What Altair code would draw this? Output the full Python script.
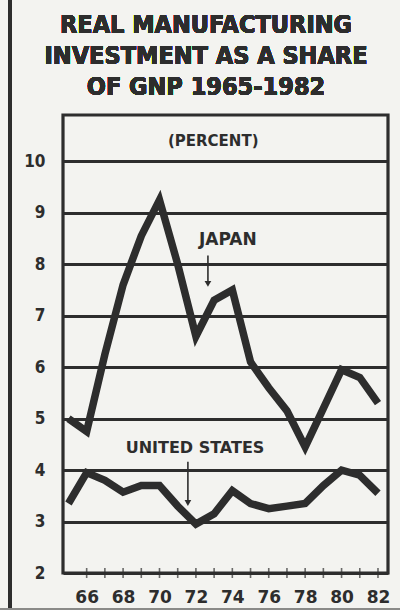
import altair as alt
import pandas as pd

# Annual shares of GNP (percent), two-digit years
years = list(range(65, 83))
japan = [5.0, 4.75, 6.25, 7.6, 8.55, 9.25, 8.0, 6.6, 7.3, 7.5, 6.1, 5.6, 5.15, 4.45, 5.2, 5.95, 5.8, 5.3]
united_states = [3.35, 3.95, 3.8, 3.57, 3.7, 3.7, 3.3, 2.95, 3.15, 3.6, 3.35, 3.25, 3.3, 3.35, 3.7, 4.0, 3.9, 3.55]

y_ticks = [2, 3, 4, 5, 6, 7, 8, 9, 10]
x_labels = [66, 68, 70, 72, 74, 76, 78, 80, 82]
x_minor = list(range(66, 83))

title_lines = ["REAL MANUFACTURING", "INVESTMENT AS A SHARE", "OF GNP 1965-1982"]

INK = "#2d2d2d"
PAPER = "#f3f3f0"
COND = "DejaVu Sans Condensed"
BOLD = "DejaVu Sans"

df = pd.DataFrame(
    {
        "year": years * 2,
        "share": japan + united_states,
        "series": ["JAPAN"] * len(years) + ["UNITED STATES"] * len(years),
    }
)

x_scale = alt.Scale(domain=[64.7, 82.55], nice=False, zero=False)
y_scale = alt.Scale(domain=[2, 10.9], nice=False, zero=False)

x_axis = alt.Axis(
    values=x_labels, format="d", title=None, ticks=False, grid=False, domain=False,
    labelFont=BOLD, labelFontWeight="bold", labelFontSize=17,
    labelColor=INK, labelPadding=16,
)
y_axis = alt.Axis(
    values=y_ticks, title=None, ticks=False, domain=False,
    grid=True, gridColor=INK, gridWidth=2.8,
    labelFont=COND, labelFontWeight="bold", labelFontSize=17,
    labelColor=INK, labelPadding=18,
)

base = alt.Chart(df)

lines = base.mark_line(color=INK, strokeWidth=7.5, strokeJoin="miter").encode(
    x=alt.X("year:Q", scale=x_scale, axis=x_axis),
    y=alt.Y("share:Q", scale=y_scale, axis=y_axis),
    detail="series:N",
)

tick_df = pd.DataFrame({"year": x_minor})
ticks = alt.Chart(tick_df).mark_tick(
    orient="vertical", color=INK, size=10, thickness=1.6
).encode(
    x=alt.X("year:Q", scale=x_scale),
    y=alt.datum(2, scale=y_scale),
)

# Series labels, the unit note and the pointer arrows, in data units
labels_df = pd.DataFrame(
    {
        "text": ["(PERCENT)", "JAPAN", "UNITED STATES"],
        "x": [72.95, 73.75, 71.95],
        "y": [10.39, 8.47, 4.43],
        "size": [15, 17, 16],
    }
)
labels = alt.Chart(labels_df).mark_text(
    font=BOLD, fontWeight="bold", color=INK, baseline="middle", align="center"
).encode(
    x=alt.X("x:Q", scale=x_scale),
    y=alt.Y("y:Q", scale=y_scale),
    text="text:N",
    size=alt.Size("size:Q", scale=None, legend=None),
)

arrows_df = pd.DataFrame(
    {"x": [72.66, 71.56], "y_from": [8.17, 4.16], "y_to": [7.62, 3.36]}
)
arrow_shafts = alt.Chart(arrows_df).mark_rule(color=INK, strokeWidth=1.6).encode(
    x=alt.X("x:Q", scale=x_scale),
    y=alt.Y("y_from:Q", scale=y_scale),
    y2="y_to:Q",
)
arrow_heads = alt.Chart(arrows_df).mark_point(
    shape="triangle-down", filled=True, color=INK, size=45, opacity=1
).encode(
    x=alt.X("x:Q", scale=x_scale),
    y=alt.Y("y_to:Q", scale=y_scale),
)

# Headline, three centred lines above the plot
title_y = [-90, -59, -28]
headline = [
    alt.Chart(tick_df).mark_text(
        font=COND, fontWeight="bold", fontSize=25, color=INK,
        align="center", baseline="middle",
    ).encode(x=alt.value(143), y=alt.value(ty), text=alt.value(line))
    for line, ty in zip(title_lines, title_y)
]

# Page rules around the graphic
frame_left = alt.Chart(tick_df).mark_rule(color=INK, strokeWidth=3).encode(
    x=alt.value(-53), y=alt.value(-115), y2=alt.value(495)
)
frame_bottom = alt.Chart(tick_df).mark_rule(color="#8a8a88", strokeWidth=2).encode(
    x=alt.value(-63), x2=alt.value(337), y=alt.value(494)
)

chart = (
    alt.layer(lines, ticks, labels, arrow_shafts, arrow_heads, *headline,
              frame_left, frame_bottom)
    .properties(
        width=325,
        height=458,
        autosize=alt.AutoSizeParams(type="none"),
        padding={"left": 63, "top": 115, "right": 12, "bottom": 37},
        background=PAPER,
    )
    .configure_view(stroke=INK, strokeWidth=3.2)
)

chart.save("out.html", embed_options={"renderer": "svg", "actions": False})
